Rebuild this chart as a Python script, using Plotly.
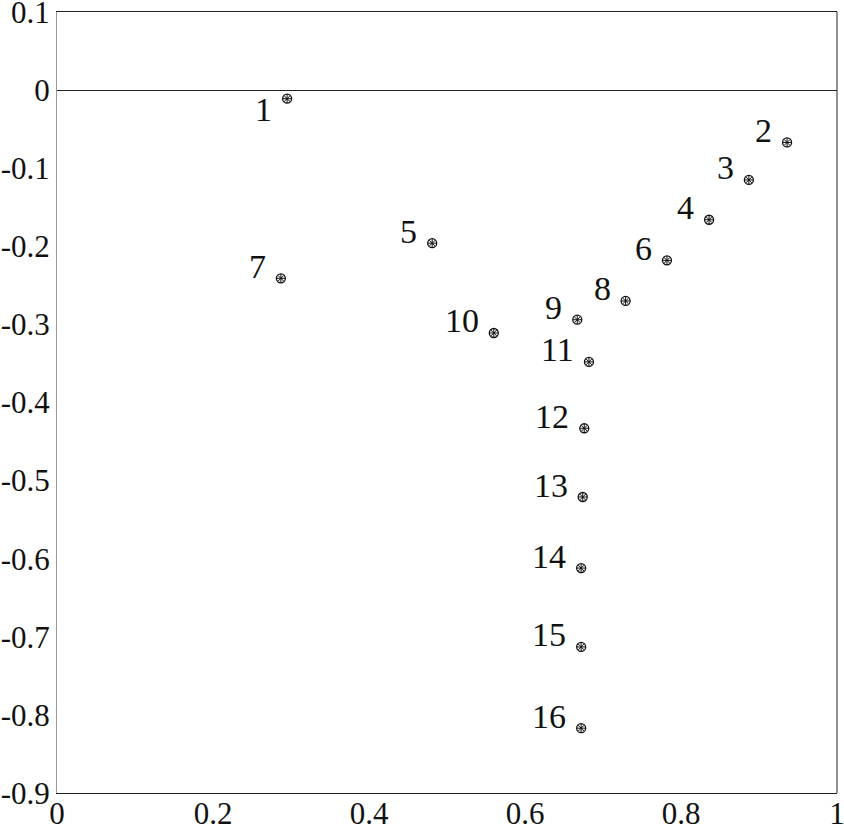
import plotly.graph_objects as go

labels = ["1", "2", "3", "4", "5", "6", "7", "8", "9", "10", "11", "12", "13", "14", "15", "16"]
x_vals = [0.295, 0.936, 0.887, 0.836, 0.481, 0.782, 0.287, 0.729, 0.667, 0.560, 0.682, 0.676, 0.674, 0.672, 0.672, 0.672]
y_vals = [-0.011, -0.067, -0.115, -0.166, -0.196, -0.218, -0.241, -0.270, -0.294, -0.311, -0.348, -0.433, -0.521, -0.612, -0.713, -0.817]

x_tick_vals = [0, 0.2, 0.4, 0.6, 0.8, 1.0]
x_tick_text = ["0", "0.2", "0.4", "0.6", "0.8", "1"]
y_tick_vals = [0.1, 0, -0.1, -0.2, -0.3, -0.4, -0.5, -0.6, -0.7, -0.8, -0.9]
y_tick_text = ["0.1", "0", "-0.1", "-0.2", "-0.3", "-0.4", "-0.5", "-0.6", "-0.7", "-0.8", "-0.9"]

labels_below = {"1"}

FONT = "Liberation Serif"

fig = go.Figure()
fig.add_trace(go.Scatter(
    x=x_vals, y=y_vals, mode="markers",
    marker=dict(symbol="circle-open", size=9, color="#111", line=dict(width=1.3, color="#111")),
    hoverinfo="skip", showlegend=False))
fig.add_trace(go.Scatter(
    x=x_vals, y=y_vals, mode="markers",
    marker=dict(symbol="asterisk-open", size=7, color="#111", line=dict(width=1, color="#111")),
    hoverinfo="skip", showlegend=False))

for lab, xv, yv in zip(labels, x_vals, y_vals):
    below = lab in labels_below
    fig.add_annotation(
        x=xv, y=yv, text=lab, showarrow=False,
        xanchor="right", yanchor="middle",
        xshift=-13, yshift=(-11 if below else 12),
        font=dict(family=FONT, size=34, color="#111"))

fig.add_shape(type="line", xref="paper", yref="paper", x0=1, x1=1, y0=0, y1=1,
              line=dict(color="#222", width=1))

fig.update_layout(
    width=844, height=829,
    margin=dict(l=57, r=7, t=12, b=36),
    plot_bgcolor="white", paper_bgcolor="white",
    font=dict(family=FONT, size=31, color="#111"),
    xaxis=dict(range=[0, 1], tickvals=x_tick_vals, ticktext=x_tick_text,
               showgrid=False, zeroline=False, showline=True, mirror=True,
               linecolor="#222", linewidth=1, ticks="", automargin=False,
               ticklabelstandoff=-7, ticklabeloverflow="allow"),
    yaxis=dict(range=[-0.9, 0.1], tickvals=y_tick_vals, ticktext=y_tick_text,
               showgrid=False, zeroline=True, zerolinecolor="#222", zerolinewidth=1,
               showline=True, mirror=False, linecolor="#999", linewidth=1,
               ticks="", automargin=False, ticklabelstandoff=0,
               ticklabeloverflow="allow"),
    yaxis2=dict(range=[-0.9, 0.1], tickvals=y_tick_vals, overlaying="y", side="right",
                showticklabels=False, ticks="inside", ticklen=4, tickcolor="#222",
                showgrid=False, zeroline=False, showline=False, automargin=False),
)

fig.write_html("out.html", config={"displayModeBar": False},
               post_script="document.body.style.margin='0';document.body.style.padding='0';document.body.style.overflow='hidden';")
